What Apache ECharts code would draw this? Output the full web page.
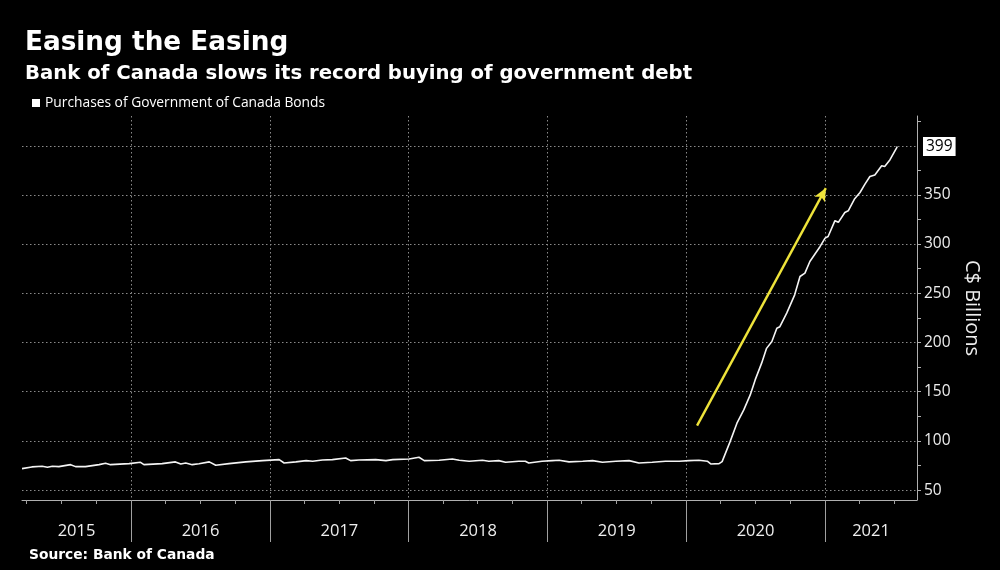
<!DOCTYPE html>
<html>
<head>
<meta charset="utf-8">
<script src="https://cdn.jsdelivr.net/npm/echarts@6/dist/echarts.min.js"></script>
<style>
html,body{margin:0;padding:0;background:#000;}
#chart{width:1000px;height:570px;}
</style>
</head>
<body>
<div id="chart"></div>
<script>
// ---- data ----
const seriesName = 'Purchases of Government of Canada Bonds';
const dates = [
'2015-03-20','2015-04-15','2015-05-12','2015-05-26','2015-06-08','2015-06-25','2015-07-26','2015-08-08','2015-09-03','2015-10-09','2015-10-26','2015-11-08','2015-12-27',
'2016-01-26','2016-02-04','2016-03-23','2016-04-27','2016-05-11','2016-05-24','2016-06-10','2016-06-28','2016-07-25','2016-08-11','2016-09-15','2016-10-29','2016-12-12',
'2017-01-25','2017-02-07','2017-03-10','2017-04-06','2017-04-23','2017-05-19','2017-06-14','2017-07-19','2017-08-01','2017-08-23','2017-10-06','2017-11-02','2017-11-20',
'2018-01-02','2018-01-28','2018-02-11','2018-03-22','2018-04-26','2018-05-14','2018-06-09','2018-07-14','2018-07-31','2018-08-26','2018-09-13','2018-10-18','2018-11-04','2018-11-13','2018-12-18',
'2019-01-14','2019-02-01','2019-02-27','2019-04-04','2019-04-30','2019-05-26','2019-06-30','2019-08-04','2019-08-30','2019-10-04','2019-11-08','2019-12-14',
'2020-01-09','2020-02-04','2020-02-26','2020-03-06','2020-03-28','2020-04-05','2020-04-26','2020-05-14','2020-06-01','2020-06-18','2020-07-01','2020-07-18','2020-07-31','2020-08-14','2020-08-27','2020-09-04','2020-09-22','2020-10-13','2020-10-27','2020-11-09','2020-11-22','2020-12-19',
'2021-01-01','2021-01-09','2021-01-27','2021-02-05','2021-02-22','2021-03-03','2021-03-20','2021-04-03','2021-04-16','2021-04-29','2021-05-12','2021-05-30','2021-06-07','2021-06-21','2021-07-08','2021-07-10'
];
const values = [
71.9,73.6,74.3,73.3,74.3,73.9,75.9,73.9,73.9,75.9,77.3,75.9,76.9,
78.3,75.9,76.9,78.7,76.6,77.6,75.9,76.9,78.7,75.3,76.9,78.7,80.0,
81.0,77.6,78.7,80.0,79.4,80.7,81.0,82.7,80.0,80.7,81.0,80.0,81.0,
81.7,83.4,80.0,80.4,81.7,80.4,79.4,80.4,79.4,80.0,78.3,79.4,79.4,77.6,79.4,
80.0,80.4,78.7,79.4,80.0,78.3,79.4,80.0,77.6,78.3,79.4,79.4,
80.0,80.4,79.4,76.6,76.9,79.0,99.3,118.0,131.5,146.7,162.0,179.0,194.0,200.9,214.5,216.0,229.8,248.4,267.0,270.4,282.2,297.5,
306.0,307.6,323.7,322.0,332.0,333.7,346.0,352.3,360.8,368.5,370.1,379.5,378.8,385.6,397.4,399
];
const yearLabels = ['2015','2016','2017','2018','2019','2020','2021'];
const yMajorTicks = [50,100,150,200,250,300,350];
const yMinorTicks = [75,125,175,225,275,325,375,425];
const xRange = ['2015-03-20','2021-08-31'];
const yRange = [40,430];
const arrowFrom = ['2020-01-30',115.5];
const arrowTo = ['2021-01-03',356.8];

// ---- helpers ----
function ts(s){const p=s.split('-').map(Number);return new Date(p[0],p[1]-1,p[2]).getTime();}
const xMin = ts(xRange[0]), xMax = ts(xRange[1]);
const yearStarts = yearLabels.map(y=>new Date(+y,0,1).getTime()).filter(t=>t>xMin && t<xMax);
const yearCenters = yearLabels.map(y=>{
  const a=Math.max(new Date(+y,0,1).getTime(),xMin), b=Math.min(new Date(+y+1,0,1).getTime(),xMax);
  return (a+b)/2;
});
const quarterStarts = [];
yearLabels.forEach(y=>[3,6,9].forEach(m=>{const t=new Date(+y,m,1).getTime(); if(t>xMin && t<xMax) quarterStarts.push(t);}));
const lineData = dates.map((d,i)=>[ts(d),values[i]]);
const lastValue = values[values.length-1];

const gridDot = {type:[1.5,2.5], color:'#8a8a8a', width:1};
const chart = echarts.init(document.getElementById('chart'), null, {renderer:'canvas'});
chart.setOption({
  backgroundColor:'#000',
  animation:false,
  title:[
    {text:'Easing the Easing', left:20, top:25, textStyle:{color:'#fff', fontFamily:'DejaVu Sans', fontWeight:'bold', fontSize:26.3}},
    {text:'Bank of Canada slows its record buying of government debt', left:20, top:59, textStyle:{color:'#fff', fontFamily:'DejaVu Sans', fontWeight:'bold', fontSize:19.7}},
    {text:'Source: Bank of Canada', left:24, top:543, textStyle:{color:'#fff', fontFamily:'DejaVu Sans', fontWeight:'bold', fontSize:13.8}}
  ],
  legend:{
    left:27, top:91, icon:'rect', itemWidth:8, itemHeight:8, itemGap:10,
    textStyle:{color:'#fff', fontFamily:'Open Sans', fontSize:13.8},
    data:[{name:seriesName, itemStyle:{color:'#fff'}}]
  },
  grid:{left:22, right:83, top:116, bottom:70, containLabel:false, outerBoundsMode:'none'},
  xAxis:[
    {type:'value', min:xMin, max:xMax, scale:true,
     axisLine:{show:true, lineStyle:{color:'#b0b0b0', width:1}},
     axisTick:{show:true, customValues:yearStarts, length:42, lineStyle:{color:'#a0a0a0', width:1}},
     axisLabel:{show:true, customValues:yearCenters, formatter:v=>String(new Date(v).getFullYear()), color:'#eee', fontFamily:'Open Sans', fontSize:16.5, margin:23, hideOverlap:false},
     splitLine:{show:true, lineStyle:gridDot}
    },
    {type:'value', min:xMin, max:xMax, scale:true, position:'bottom',
     axisLine:{show:false},
     axisTick:{show:true, customValues:quarterStarts, length:4, lineStyle:{color:'#a0a0a0', width:1}},
     axisLabel:{show:false},
     splitLine:{show:false}
    }
  ],
  yAxis:[
    {type:'value', position:'right', min:yRange[0], max:yRange[1],
     axisLine:{show:true, lineStyle:{color:'#b0b0b0', width:1}},
     axisTick:{show:true, customValues:yMajorTicks, length:4, lineStyle:{color:'#b0b0b0'}},
     axisLabel:{show:true, customValues:yMajorTicks, color:'#eee', fontFamily:'Open Sans', fontSize:15.5, margin:7},
     splitLine:{show:true, lineStyle:gridDot},
     name:'C$ Billions', nameLocation:'middle', nameRotate:-90, nameGap:40,
     nameTextStyle:{color:'#eee', fontFamily:'Open Sans', fontSize:20}
    },
    {type:'value', position:'right', min:yRange[0], max:yRange[1],
     axisLine:{show:false},
     axisTick:{show:true, customValues:yMinorTicks, length:4, lineStyle:{color:'#b0b0b0'}},
     axisLabel:{show:false},
     splitLine:{show:false}
    }
  ],
  series:[{
    name:seriesName, type:'line', xAxisIndex:0, yAxisIndex:0,
    data:lineData, showSymbol:false, symbol:'none',
    lineStyle:{color:'#f4f4f4', width:1.6},
    itemStyle:{color:'#fff'},
    markLine:{
      silent:true, animation:false,
      symbol:['none','none'],
      data:[
        {yAxis:lastValue,
         lineStyle:gridDot,
         label:{show:true, position:'end', distance:6, formatter:String(lastValue), color:'#000', backgroundColor:'#fff', padding:[2,3,1,3], fontFamily:'Open Sans', fontSize:15.5}},
        [{coord:[ts(arrowFrom[0]),arrowFrom[1]], symbol:'none'},
         {coord:[ts(arrowTo[0]),arrowTo[1]], symbol:'arrow', symbolSize:[9,13],
          lineStyle:{color:'#eee33a', width:2.4, type:'solid'}, label:{show:false}}]
      ],
      lineStyle:{color:'#eee33a', width:2.4, type:'solid'},
      label:{show:false}
    }
  }]
});
</script>
</body>
</html>
